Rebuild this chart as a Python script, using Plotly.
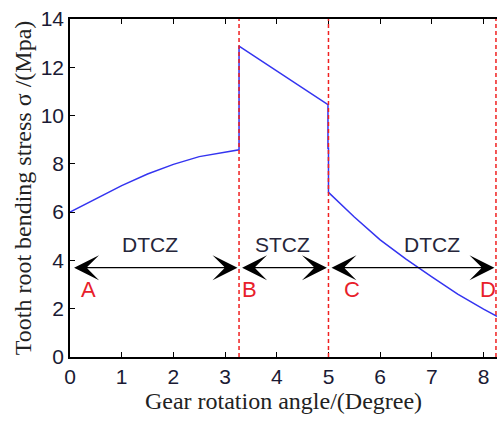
import plotly.graph_objects as go

# Stress curve (degree, MPa)
angle = [0, 0.5, 1, 1.5, 2, 2.5, 3, 3.27,
         3.27, 4.0, 4.99, 4.99, 5.0, 5.0,
         5.5, 6.0, 6.5, 7.0, 7.5, 8.0, 8.26]
stress = [6.0, 6.55, 7.1, 7.58, 7.98, 8.3, 8.5, 8.58,
          12.88, 11.85, 10.45, 8.65, 8.65, 6.82,
          5.8, 4.85, 4.05, 3.32, 2.6, 1.98, 1.68]

# Zone boundaries (A, B, C, D)
bounds = [0.0, 3.27, 5.0, 8.24]
dashed_x = [3.27, 5.0, 8.24]
point_labels = ["A", "B", "C", "D"]
point_label_x = [0.35, 3.47, 5.45, 8.08]
zone_labels = ["DTCZ", "STCZ", "DTCZ"]
zone_label_x = [1.55, 4.12, 7.0]
arrow_y = 3.7

tick_col = "#1a1a34"

fig = go.Figure()
fig.add_trace(go.Scatter(x=angle, y=stress, mode="lines",
                         line=dict(color="#3434f0", width=1.5),
                         showlegend=False, hoverinfo="skip"))

for xv in dashed_x:
    fig.add_shape(type="line", xref="x", yref="y", x0=xv, x1=xv, y0=0, y1=14,
                  line=dict(color="#f02020", width=1.5, dash="4px,3px"))

# double-headed arrows
for i in range(3):
    x0 = bounds[i] + (0.05 if i == 0 else 0.03)
    x1 = bounds[i + 1] - 0.03
    fig.add_annotation(x=x1, y=arrow_y, ax=x0, ay=arrow_y, xref="x", yref="y",
                       axref="x", ayref="y", text="", showarrow=True,
                       arrowhead=3, startarrowhead=3, arrowside="end+start",
                       arrowsize=3.2, startarrowsize=3.2, arrowwidth=1.3,
                       arrowcolor="#000000")

for lbl, xv in zip(zone_labels, zone_label_x):
    fig.add_annotation(x=xv, y=4.65, xref="x", yref="y", text=lbl, showarrow=False,
                       font=dict(family="Liberation Sans, Arial", size=21, color="#26263a"))

for lbl, xv in zip(point_labels, point_label_x):
    fig.add_annotation(x=xv, y=2.8, xref="x", yref="y", text=lbl, showarrow=False,
                       font=dict(family="Liberation Sans, Arial", size=22, color="#e8202a"))

fig.update_layout(
    width=497, height=421,
    margin=dict(l=70, r=0, t=19, b=64),
    paper_bgcolor="white", plot_bgcolor="white",
    xaxis=dict(range=[0, 8.26], tickvals=[0, 1, 2, 3, 4, 5, 6, 7, 8],
               showline=True, linecolor="black", linewidth=1.5, mirror="ticks",
               ticks="inside", ticklen=5, tickcolor="black", showgrid=False,
               zeroline=False,
               tickfont=dict(family="Liberation Sans, Arial", size=21, color=tick_col),
               title=dict(text="Gear rotation angle/(Degree)", standoff=4,
                          font=dict(family="Liberation Serif, Times New Roman", size=24,
                                    color="#222222"))),
    yaxis=dict(range=[0, 14], tickvals=[0, 2, 4, 6, 8, 10, 12, 14],
               showline=True, linecolor="black", linewidth=1.5, mirror=False,
               ticks="inside", ticklen=5, tickcolor="black", showgrid=False,
               zeroline=False,
               tickfont=dict(family="Liberation Sans, Arial", size=21, color=tick_col),
               title=dict(text="Tooth root bending stress σ /(Mpa)", standoff=2,
                          font=dict(family="Liberation Serif, Times New Roman", size=24,
                                    color="#222222"))),
)

fig.write_html("out.html")
